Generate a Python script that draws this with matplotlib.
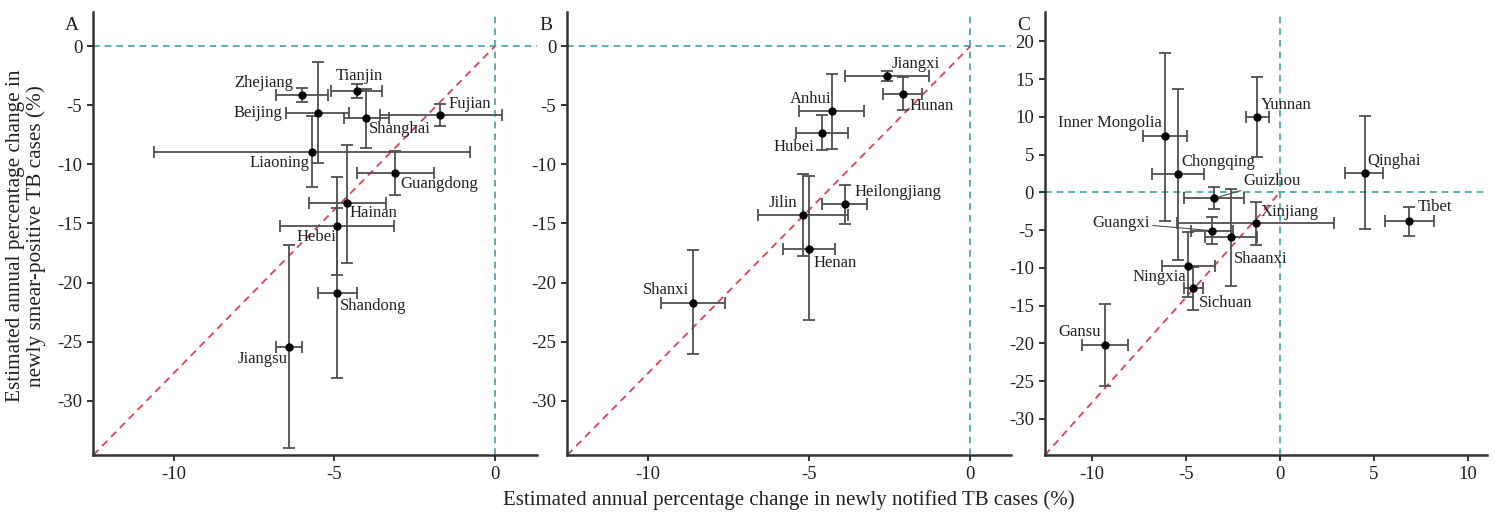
import matplotlib
matplotlib.use("Agg")
import matplotlib.pyplot as plt
import numpy as np

plt.rcParams['font.family'] = ['Liberation Serif', 'DejaVu Serif']

# ---------------- data ----------------
names_a = ["Zhejiang", "Tianjin", "Beijing", "Shanghai", "Fujian", "Liaoning",
           "Guangdong", "Hainan", "Hebei", "Shandong", "Jiangsu"]
x_a = [-5.99, -4.30, -5.51, -4.01, -1.70, -5.69, -3.10, -4.61, -4.91, -4.91, -6.41]
x_lo_a = [-6.80, -5.11, -6.51, -4.69, -3.59, -10.61, -4.30, -5.78, -6.70, -5.51, -6.82]
x_hi_a = [-5.19, -3.50, -4.53, -3.31, 0.21, -0.79, -1.91, -3.39, -3.13, -4.30, -6.00]
y_a = [-4.10, -3.82, -5.66, -6.08, -5.80, -8.91, -10.72, -13.27, -15.20, -20.91, -25.44]
y_lo_a = [-4.73, -4.41, -9.90, -8.63, -6.73, -11.88, -12.59, -18.31, -19.33, -28.10, -33.98]
y_hi_a = [-3.51, -3.23, -1.33, -3.65, -4.87, -5.91, -8.83, -8.32, -11.09, -13.70, -16.81]

names_b = ["Jiangxi", "Hunan", "Anhui", "Hubei", "Heilongjiang", "Jilin", "Henan", "Shanxi"]
x_b = [-2.60, -2.09, -4.29, -4.59, -3.89, -5.19, -5.01, -8.59]
x_lo_b = [-3.89, -2.71, -5.31, -5.41, -4.59, -6.60, -5.80, -9.60]
x_hi_b = [-1.29, -1.50, -3.30, -3.79, -3.20, -3.79, -4.19, -7.60]
y_b = [-2.52, -4.02, -5.52, -7.33, -13.36, -14.29, -17.12, -21.71]
y_lo_b = [-2.97, -5.38, -8.68, -8.80, -15.08, -17.77, -23.20, -26.09]
y_hi_b = [-2.12, -2.60, -2.32, -5.86, -11.71, -10.81, -10.95, -17.26]

names_c = ["Yunnan", "Inner Mongolia", "Chongqing", "Qinghai", "Tibet", "Guizhou",
           "Xinjiang", "Guangxi", "Shaanxi", "Ningxia", "Sichuan", "Gansu"]
x_c = [-1.20, -6.11, -5.42, 4.50, 6.89, -3.52, -1.29, -3.61, -2.62, -4.90, -4.60, -9.29]
x_lo_c = [-1.79, -7.28, -6.80, 3.47, 5.61, -5.11, -5.50, -4.75, -4.00, -6.30, -5.11, -10.51]
x_hi_c = [-0.60, -4.94, -4.04, 5.47, 8.22, -1.91, 2.90, -2.50, -1.20, -3.43, -4.12, -8.07]
y_c = [10.0, 7.41, 2.38, 2.59, -3.80, -0.80, -4.10, -5.08, -5.95, -9.75, -12.70, -20.24]
y_lo_c = [4.71, -3.76, -8.96, -4.89, -5.74, -2.25, -6.97, -6.84, -12.35, -13.89, -15.57, -25.62]
y_hi_c = [15.29, 18.52, 13.76, 10.09, -1.90, 0.66, -1.24, -3.31, 0.44, -5.21, -9.92, -14.78]

panel_letters = ["A", "B", "C"]
xticks_ab = [-10, -5, 0]
xticks_c = [-10, -5, 0, 5, 10]
yticks_ab = [0, -5, -10, -15, -20, -25, -30]
yticks_c = [20, 15, 10, 5, 0, -5, -10, -15, -20, -25, -30]

xlabel = "Estimated annual percentage change in newly notified TB cases (%)"
ylabel = "Estimated annual percentage change in\nnewly smear-positive TB cases (%)"

# ---------------- label placement (pixel offsets) ----------------
offs_a = {"Zhejiang": (-9, 12, 'right'), "Tianjin": (3, 15, 'center'),
          "Beijing": (-36, 0, 'right'), "Shanghai": (3, -11, 'left'),
          "Fujian": (8, 11, 'left'), "Liaoning": (-3, -11, 'right'),
          "Guangdong": (5, -11, 'left'), "Hainan": (3, -10, 'left'),
          "Hebei": (-1, -11, 'right'), "Shandong": (3, -13, 'left'),
          "Jiangsu": (-1, -12, 'right')}
offs_b = {"Jiangxi": (5, 12, 'left'), "Hunan": (7, -12, 'left'),
          "Anhui": (-1, 12, 'right'), "Hubei": (-8, -14, 'right'),
          "Heilongjiang": (10, 12, 'left'), "Jilin": (-6, 12, 'right'),
          "Henan": (5, -14, 'left'), "Shanxi": (-4, 13, 'right')}
offs_c = {"Yunnan": (3, 12, 'left'), "Inner Mongolia": (-3, 13, 'right'),
          "Chongqing": (3, 12, 'left'), "Qinghai": (3, 12, 'left'),
          "Tibet": (8, 14, 'left'), "Guizhou": (30, 17, 'left'),
          "Xinjiang": (5, 11, 'left'), "Guangxi": (-62, 8, 'right'),
          "Shaanxi": (3, -22, 'left'), "Ningxia": (-2, -11, 'right'),
          "Sichuan": (5, -15, 'left'), "Gansu": (-4, 13, 'right')}
leaders = {"Guizhou", "Guangxi"}

W, H = 1496, 516
fig = plt.figure(figsize=(W / 100, H / 100), dpi=100)

bot = 1 - 455 / H
top = 1 - 12 / H
axes_px = [(93.3, 536.7), (567.3, 1010.7), (1045, 1486.7)]
limits = [((-12.5, 1.3), (-34.6, 2.9)),
          ((-12.5, 1.25), (-34.6, 2.9)),
          ((-12.5, 11.0), (-34.8, 23.9))]

panels = [
    (names_a, x_a, x_lo_a, x_hi_a, y_a, y_lo_a, y_hi_a, offs_a, xticks_ab, yticks_ab),
    (names_b, x_b, x_lo_b, x_hi_b, y_b, y_lo_b, y_hi_b, offs_b, xticks_ab, yticks_ab),
    (names_c, x_c, x_lo_c, x_hi_c, y_c, y_lo_c, y_hi_c, offs_c, xticks_c, yticks_c),
]

teal = '#3f9fa8'
red = '#d9434f'
ebc = '#505050'

for i, (names, xs, xlo, xhi, ys, ylo, yhi, offs, xt, yt) in enumerate(panels):
    l, r = axes_px[i]
    ax = fig.add_axes([l / W, bot, (r - l) / W, top - bot])
    (x0, x1), (y0, y1) = limits[i]
    ax.set_xlim(x0, x1)
    ax.set_ylim(y0, y1)

    ax.axhline(0, color=teal, lw=1.2, ls=(0, (4, 3)), zorder=1)
    ax.axvline(0, color=teal, lw=1.2, ls=(0, (4, 3)), zorder=1)
    ax.plot([x0, 0], [y0, 0], color=red, lw=1.3, ls=(0, (4, 3)), zorder=1)

    xs_ = np.array(xs); ys_ = np.array(ys)
    xerr = [xs_ - np.array(xlo), np.array(xhi) - xs_]
    yerr = [ys_ - np.array(ylo), np.array(yhi) - ys_]
    ax.errorbar(xs_, ys_, xerr=xerr, yerr=yerr, fmt='o', color='black', ms=5,
                ecolor=ebc, elinewidth=1.3, capsize=4, capthick=1.3, zorder=3)

    for n, xv, yv in zip(names, xs, ys):
        dx, dy, ha = offs[n]
        kw = {}
        if n in leaders:
            kw['arrowprops'] = dict(arrowstyle='-', color=ebc, lw=0.8,
                                    shrinkA=0, shrinkB=3)
        ax.annotate(n, (xv, yv), xytext=(dx, dy), textcoords='offset pixels',
                    ha=ha, va='center', fontsize=12, color='#222222', zorder=4, **kw)

    ax.set_xticks(xt)
    ax.set_yticks(yt)
    ax.set_xticklabels([str(v) for v in xt])
    ax.set_yticklabels([str(v) for v in yt])
    for s in ['top', 'right']:
        ax.spines[s].set_visible(False)
    for s in ['left', 'bottom']:
        ax.spines[s].set_color('#333333')
        ax.spines[s].set_linewidth(1.8)
    ax.tick_params(direction='out', length=4, width=1.4, color='#333333',
                   labelsize=13.5, labelcolor='#222222', pad=4)
    ax.text(-0.048, 0.97, panel_letters[i], transform=ax.transAxes,
            ha='center', va='center', fontsize=14, color='#222222')

fig.text(26 / W, 1 - 236 / H, ylabel, rotation=90, ha='center', va='center',
         fontsize=15.3, color='#222222', linespacing=1.05)
fig.text(789 / W, 1 - 500 / H, xlabel, ha='center', va='center',
         fontsize=15, color='#222222')

fig.savefig("out.png", dpi=100, facecolor='white')
